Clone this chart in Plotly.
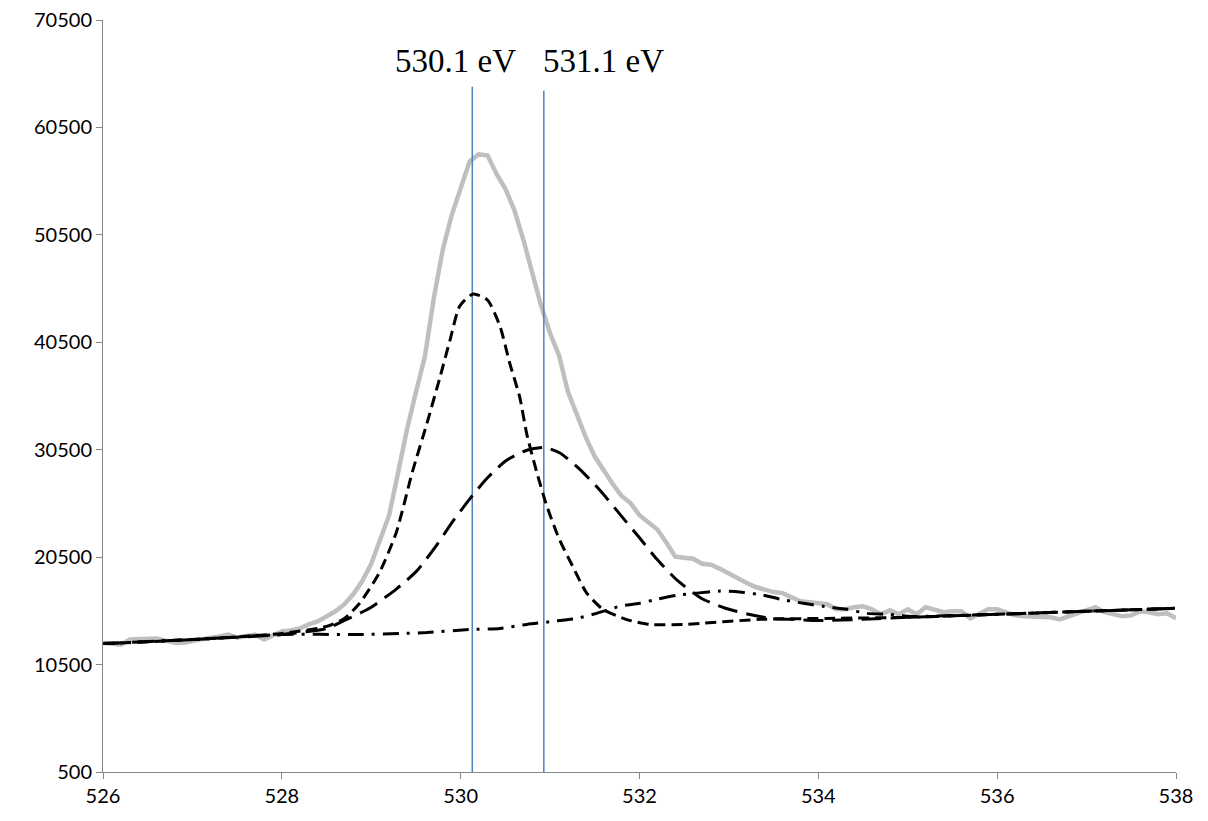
import plotly.graph_objects as go

# ---------------- data ----------------
# measured spectrum (binding energy, eV) and counts
energy = [round(526 + 0.1 * i, 1) for i in range(121)]
counts = [
    12540, 12450, 12350, 12830, 12830, 12830, 12920, 12730, 12540, 12540,
    12730, 12830, 13010, 13110, 13300, 13010, 13110, 13300, 12830, 13200,
    13580, 13670, 13860, 14240, 14520, 14990, 15460, 16120, 17060, 18280,
    19880, 22140, 24400, 28350, 32400, 35880, 39170, 44630, 49140, 52340,
    54980, 57330, 57990, 57900, 56200, 54790, 52810, 50090, 46980, 43880,
    41340, 39270, 35880, 33710, 31640, 29860, 28540, 27320, 26190, 25530,
    24400, 23740, 23080, 21860, 20540, 20450, 20350, 19880, 19790, 19410,
    18940, 18470, 18090, 17720, 17440, 17250, 17150, 16780, 16400, 16310,
    16210, 16120, 15650, 15650, 15840, 15930, 15650, 15180, 15550, 15180,
    15650, 15180, 15840, 15650, 15370, 15460, 15460, 14800, 15270, 15650,
    15650, 15370, 15080, 14990, 14990, 14990, 14900, 14710, 14990, 15270,
    15650, 15840, 15370, 15180, 14990, 15080, 15460, 15370, 15180, 15270,
    14800,
]

# fitted component 1 (530.1 eV) + background
c1_e = [526.0, 527.0, 528.0, 528.5, 528.7, 528.87, 529.09, 529.28, 529.46, 529.62,
        529.77, 529.88, 529.99, 530.14, 530.3, 530.44, 530.55, 530.66, 530.74, 530.85,
        530.96, 531.1, 531.25, 531.41, 531.59, 531.85, 532.11, 532.5, 533.35, 534.1,
        535.0, 536.0, 537.0, 538.0]
c1_v = [12450, 12830, 13390, 14050, 14800, 16210, 19040, 22800, 28440, 32870,
        37290, 40680, 43880, 45000, 44440, 41990, 38510, 35410, 31930, 28440,
        25340, 22230, 19690, 17150, 15650, 14710, 14240, 14240, 14710, 14800,
        14900, 15180, 15460, 15740]

# fitted component 2 (531.1 eV) + background
c2_e = [526.0, 527.0, 528.0, 528.5, 528.7, 528.98, 529.28, 529.51, 529.73, 529.91,
        530.1, 530.29, 530.51, 530.74, 530.94, 531.11, 531.33, 531.56, 531.78, 532.0,
        532.19, 532.43, 532.69, 532.96, 533.22, 533.47, 533.7, 534.0, 534.5, 535.0,
        536.0, 537.0, 538.0]
c2_v = [12450, 12830, 13300, 13860, 14610, 15740, 17530, 19220, 21600, 23800,
        25900, 27800, 29500, 30450, 30700, 30200, 28700, 26700, 24500, 22300,
        20350, 18280, 16680, 15740, 15180, 14800, 14710, 14610, 14710, 14900,
        15180, 15460, 15740]

# fitted component 3 + background
c3_e = [526.0, 527.0, 528.0, 528.87, 529.32, 529.62, 530.1, 530.44, 530.74, 531.03,
        531.3, 531.52, 531.78, 532.0, 532.2, 532.43, 532.64, 532.9, 533.12, 533.38,
        533.57, 533.83, 534.05, 534.32, 534.54, 534.8, 535.0, 536.0, 537.0, 538.0]
c3_v = [12450, 12830, 13300, 13300, 13390, 13480, 13770, 13860, 14240, 14520,
        14800, 15270, 15930, 16210, 16590, 16970, 17150, 17340, 17250, 16970,
        16590, 16210, 15930, 15650, 15270, 15180, 14990, 15180, 15460, 15740]

# peak marker lines
marker_e = [530.13, 530.93]
marker_top = [64290, 63920]
marker_labels = ["530.1 eV", "531.1 eV"]
label_e = [529.94, 531.6]
label_y = [66640, 66640]

x_ticks = [526, 528, 530, 532, 534, 536, 538]
y_ticks = [500, 10500, 20500, 30500, 40500, 50500, 60500, 70500]

# ---------------- figure ----------------
fig = go.Figure()

fig.add_trace(go.Scatter(x=energy, y=counts, mode="lines",
                         line=dict(color="#BFBFBF", width=4.5), showlegend=False))

for e, top in zip(marker_e, marker_top):
    fig.add_trace(go.Scatter(x=[e, e], y=[y_ticks[0], top], mode="lines",
                             line=dict(color="#4F81BD", width=1.5), showlegend=False))

fig.add_trace(go.Scatter(x=c3_e, y=c3_v, mode="lines",
                         line=dict(color="black", width=3, dash="16px,8px,3px,8px",
                                   shape="spline", smoothing=0.6), showlegend=False))
fig.add_trace(go.Scatter(x=c2_e, y=c2_v, mode="lines",
                         line=dict(color="black", width=3, dash="20px,9px",
                                   shape="spline", smoothing=0.6), showlegend=False))
fig.add_trace(go.Scatter(x=c1_e, y=c1_v, mode="lines",
                         line=dict(color="black", width=3, dash="11px,6px",
                                   shape="spline", smoothing=0.6), showlegend=False))

for txt, xe, ye in zip(marker_labels, label_e, label_y):
    fig.add_annotation(x=xe, y=ye, text=txt, showarrow=False,
                       font=dict(family="Liberation Serif", size=33, color="black"),
                       xanchor="center", yanchor="middle")

axis_common = dict(showgrid=False, zeroline=False, showline=True, linecolor="#868686",
                   linewidth=1, ticks="outside", ticklen=6, tickcolor="#868686",
                   automargin=False, ticklabeloverflow="allow",
                   tickfont=dict(family="Lato", size=20, color="black"))

fig.update_xaxes(range=[526, 538], tickvals=x_ticks, ticktext=[str(v) for v in x_ticks],
                 **axis_common)
fig.update_yaxes(range=[500, 70500], tickvals=y_ticks, ticktext=[str(v) for v in y_ticks],
                 **axis_common)

# page body has an 8px default margin, so the figure is sized to fit inside the window
fig.update_layout(width=1200, height=813, plot_bgcolor="white", paper_bgcolor="white",
                  margin=dict(l=95, r=32, t=12, b=49, autoexpand=False), showlegend=False)

fig.write_html("out.html")
